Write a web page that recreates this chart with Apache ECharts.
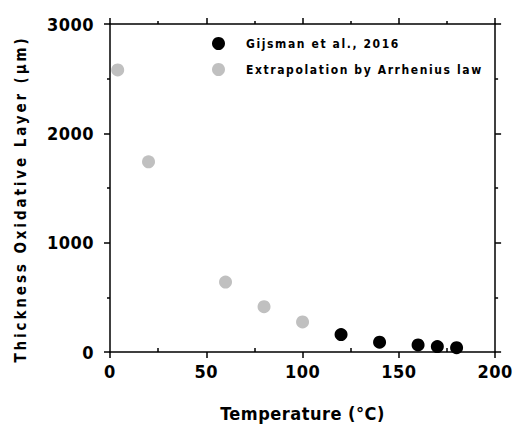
<!DOCTYPE html>
<html><head><meta charset="utf-8">
<script src="https://cdn.jsdelivr.net/npm/echarts@6/dist/echarts.min.js"></script>
<style>
html,body{margin:0;padding:0;background:#fff;}
#c{width:515px;height:427px;}
#c svg text{letter-spacing:2.9px; font-stretch: condensed;}
#c svg text[style*="18px"]{letter-spacing:0.5px;}
#c svg text[style*="12px"]{letter-spacing:1.6px;}
</style></head>
<body><div id="c"></div>
<script>
const seriesNames = ['Gijsman et al., 2016', 'Extrapolation by Arrhenius law'];
const gijsmanTemp = [120, 140, 160, 170, 180];
const gijsmanThick = [160, 90, 65, 50, 40];
const arrheniusTemp = [4, 20, 60, 80, 100];
const arrheniusThick = [2580, 1740, 640, 415, 275];
const xMinorTicks = [25, 75, 125, 175];
const xTitle = 'Temperature (°C)';
const yTitle = 'Thickness Oxidative Layer (μm)';

const FONT = '"DejaVu Sans Condensed", "Liberation Sans Narrow", "DejaVu Sans", sans-serif';
const chart = echarts.init(document.getElementById('c'), null, {renderer: 'svg'});
const lineStyle = {color: '#000', width: 1.5};
const xCommon = {type: 'value', min: 0, max: 200, interval: 50,
  axisLine: {show: true, onZero: false, lineStyle},
  axisTick: {show: true, length: 6, lineStyle},
  minorTick: {show: true, splitNumber: 2, length: 3, lineStyle},
  splitLine: {show: false}};
const yCommon = {type: 'value', min: 0, max: 3000, interval: 1000,
  axisLine: {show: true, onZero: false, lineStyle},
  axisTick: {show: true, length: 6, lineStyle},
  minorTick: {show: true, splitNumber: 2, length: 3, lineStyle},
  splitLine: {show: false}};
const zip = (a, b) => a.map((v, i) => [v, b[i]]);
chart.setOption({
  backgroundColor: '#fff',
  animation: false,
  grid: {left: 110, right: 12, top: 24, bottom: 73},
  xAxis: [
    Object.assign({}, xCommon, {position: 'bottom',
      minorTick: {show: false},
      axisLabel: {margin: 10, fontFamily: FONT, fontWeight: 'bold', fontSize: 18, color: '#000', formatter: v => String(v)},
      name: xTitle, nameLocation: 'middle', nameGap: 52, nameMoveOverlap: false,
      nameTextStyle: {fontFamily: FONT, fontWeight: 'bold', fontSize: 18, color: '#000'}}),
    Object.assign({}, xCommon, {position: 'top', axisLabel: {show: false}}),
    Object.assign({}, xCommon, {position: 'bottom', axisLine: {show: false},
      minorTick: {show: false}, axisLabel: {show: false},
      axisTick: {show: true, inside: true, length: 4, lineStyle, customValues: xMinorTicks}})
  ],
  yAxis: [
    Object.assign({}, yCommon, {position: 'left',
      axisLabel: {margin: 16, fontFamily: FONT, fontWeight: 'bold', fontSize: 18, color: '#000', formatter: v => String(v)},
      name: yTitle, nameLocation: 'middle', nameGap: 82, nameMoveOverlap: false,
      nameTextStyle: {fontFamily: FONT, fontWeight: 'bold', fontSize: 15, color: '#000', padding: [0, 22, 0, 0]}}),
    Object.assign({}, yCommon, {position: 'right', axisLabel: {show: false}})
  ],
  legend: {
    orient: 'vertical', left: 207, top: 32, itemGap: 13,
    itemWidth: 13, itemHeight: 13, icon: 'circle',
    data: seriesNames,
    formatter: n => '{a|' + n + '}',
    textStyle: {fontFamily: FONT, fontWeight: 'bold', fontSize: 12, color: '#000',
      rich: {a: {fontFamily: FONT, fontWeight: 'bold', fontSize: 12, color: '#000', padding: [0, 0, 0, 16]}}}
  },
  series: [
    {name: seriesNames[0], type: 'scatter', symbol: 'circle', symbolSize: 13,
     itemStyle: {color: '#000', opacity: 1}, data: zip(gijsmanTemp, gijsmanThick)},
    {name: seriesNames[1], type: 'scatter', symbol: 'circle', symbolSize: 13,
     itemStyle: {color: '#c0c0c0', opacity: 1}, data: zip(arrheniusTemp, arrheniusThick)}
  ]
});
</script></body></html>
